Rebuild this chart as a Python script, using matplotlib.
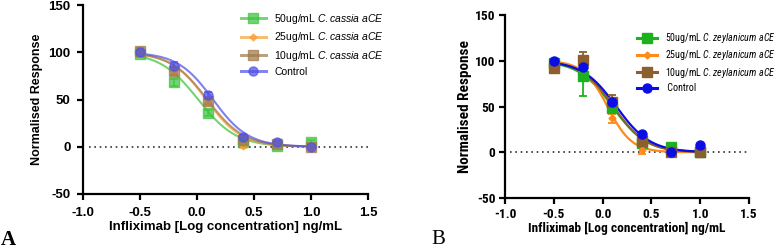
import numpy as np
import matplotlib
matplotlib.use("Agg")
import matplotlib.pyplot as plt
from matplotlib import font_manager

# ---------------- data ----------------
log_conc = [-0.5, -0.2, 0.1, 0.4, 0.7, 1.0]

# Panel A (C. cassia)
a_labels = ["50ug/mL", "25ug/mL", "10ug/mL", "Control"]
a_50 = [98, 68, 36, 5, 1, 5]
a_25 = [99, 80, 47, 1, 3, 0]
a_10 = [101, 80, 48, 7, 3, 0]
a_ctrl = [100, 85, 55, 10, 5, 0]
a_err_50 = [3, 4, 3, 2, 1, 2]
a_err_25 = [3, 3, 3, 2, 1, 1]
a_err_10 = [4, 4, 3, 2, 1, 1]
a_err_ctrl = [2, 5, 3, 2, 1, 1]
a_logic50 = [0.01, 0.08, 0.09, 0.14]
a_hill = [2.6, 2.8, 2.7, 2.8]

# Panel B (C. zeylanicum)
b_50 = [98, 83, 48, 10, 6, 0]
b_25 = [100, 97, 37, 2, 0, 0]
b_10 = [92, 101, 55, 12, 0, 0]
b_ctrl = [100, 93, 55, 20, 0, 8]
b_err_50 = [2, 21, 4, 3, 2, 1]
b_err_25 = [1, 2, 5, 4, 1, 1]
b_err_10 = [2, 9, 8, 2, 1, 1]
b_err_ctrl = [1, 2, 2, 2, 1, 1]
b_logic50 = [0.10, 0.05, 0.11, 0.14]
b_hill = [2.5, 3.5, 2.6, 2.5]

x_ticks = [-1.0, -0.5, 0.0, 0.5, 1.0, 1.5]
y_ticks = [-50, 0, 50, 100, 150]

plt.rcParams['font.family'] = ['Liberation Sans', 'DejaVu Sans']

# find a narrow / condensed family that has a bold face
fonts = font_manager.fontManager.ttflist
narrow = None
for cand in ['Liberation Sans Narrow', 'Arial Narrow', 'Archivo Narrow', 'PT Sans Narrow',
             'Roboto Condensed', 'Asap Condensed', 'IBM Plex Sans Condensed',
             'Barlow Semi Condensed', 'Open Sans Condensed', 'Fira Sans Condensed',
             'Encode Sans Condensed', 'Sofia Sans Condensed']:
    faces = [f for f in fonts if f.name == cand]
    has_bold = any((isinstance(f.weight, int) and f.weight >= 600) or
                   (isinstance(f.weight, str) and 'bold' in f.weight.lower()) for f in faces)
    has_it = any(f.style == 'italic' for f in faces)
    if faces and has_bold and has_it:
        narrow = cand
        break
if narrow is None:
    narrow = 'Liberation Sans'
    b_fs, b_yl, b_leg = 8.4, 9.0, 6.6
else:
    b_fs, b_yl, b_leg = 9.6, 11.0, 7.2

plt.rcParams['mathtext.fontset'] = 'custom'
plt.rcParams['mathtext.it'] = 'Liberation Sans:italic'
plt.rcParams['mathtext.rm'] = 'Liberation Sans'
plt.rcParams['mathtext.sf'] = narrow + ':italic'

fig = plt.figure(figsize=(7.78, 2.5), dpi=100)


def curve(x, c, h):
    return 100.0 / (1.0 + 10 ** ((x - c) * h))


def style_axes(ax, fam, fs, yfs, xpad, ypad, xlp, ylp):
    ax.set_xlim(-1.0, 1.5)
    ax.set_ylim(-50, 150)
    ax.set_xticks(x_ticks)
    ax.set_yticks(y_ticks)
    ax.set_xticklabels([f"{t:.1f}" for t in x_ticks], fontweight='bold', fontsize=fs, family=fam)
    ax.set_yticklabels([str(t) for t in y_ticks], fontweight='bold', fontsize=fs, family=fam)
    for s in ['top', 'right']:
        ax.spines[s].set_visible(False)
    for s in ['left', 'bottom']:
        ax.spines[s].set_linewidth(1.6)
        ax.spines[s].set_color('black')
    ax.tick_params(direction='out', length=4, width=1.6)
    ax.tick_params(axis='x', pad=xpad)
    ax.tick_params(axis='y', pad=ypad)
    ax.set_xlabel("Infliximab [Log concentration] ng/mL", fontweight='bold', fontsize=fs,
                  family=fam, labelpad=xlp)
    ax.set_ylabel("Normalised Response", fontweight='bold', fontsize=yfs, family=fam,
                  labelpad=ylp)


def draw_panel(ax, series, errs, ic50s, hills, colors, markers, msizes, alpha, labels, line_w):
    xf = np.linspace(-0.5, 1.0, 300)
    ax.plot([-0.95, 1.5], [0, 0], linestyle=(0, (1, 2.2)), color='#333333', linewidth=1.2, zorder=1)
    handles = []
    for vals, er, c, h, col, mk, ms, lab in zip(series, errs, ic50s, hills, colors, markers, msizes, labels):
        ax.plot(xf, curve(xf, c, h), color=col, linewidth=line_w, alpha=alpha, zorder=2)
        ax.errorbar(log_conc, vals, yerr=er, fmt='none', ecolor=col, elinewidth=1.3,
                    capsize=3, capthick=1.3, alpha=alpha, zorder=3)
        ax.plot(log_conc, vals, linestyle='none', marker=mk, markersize=ms, color=col,
                alpha=alpha, zorder=4)
        hd, = ax.plot([], [], color=col, marker=mk, markersize=ms, linewidth=line_w + 0.6,
                      alpha=alpha, label=lab)
        handles.append(hd)
    return handles


# ---------------- Panel A ----------------
axA = fig.add_axes([83 / 778, 1 - 194 / 250, 285 / 778, 189 / 250])
colsA = ['#3ec43e', '#f7a037', '#a07a4a', '#5050e8']
hA = draw_panel(axA, [a_50, a_25, a_10, a_ctrl], [a_err_50, a_err_25, a_err_10, a_err_ctrl],
                a_logic50, a_hill, colsA, ['s', 'D', 's', 'o'], [6.5, 3.5, 6.5, 6.5], 0.72,
                a_labels, 1.5)
style_axes(axA, ['Liberation Sans', 'DejaVu Sans'], 9.5, 9.0, 5, 5, 2, 4)
legA_labels = ["50ug/mL $\\it{C.cassia\\ aCE}$", "25ug/mL $\\it{C.cassia\\ aCE}$",
               "10ug/mL $\\it{C.cassia\\ aCE}$", "Control"]
legA = axA.legend(hA, legA_labels, loc='upper left', bbox_to_anchor=(0.53, 1.0),
                  frameon=False, fontsize=7.5, handlelength=2.4, handletextpad=0.8,
                  labelspacing=0.42, borderaxespad=0.25)

# ---------------- Panel B ----------------
axB = fig.add_axes([505 / 778, 1 - 198 / 250, 244 / 778, 183 / 250])
colsB = ['#1db21d', '#ff8a1c', '#8c5f2d', '#0c0ce6']
hB = draw_panel(axB, [b_50, b_25, b_10, b_ctrl], [b_err_50, b_err_25, b_err_10, b_err_ctrl],
                b_logic50, b_hill, colsB, ['s', 'D', 's', 'o'], [6.5, 3.5, 6.5, 6.5], 1.0,
                a_labels, 1.6)
style_axes(axB, [narrow, 'DejaVu Sans'], b_fs, b_yl, 3.0, 3, 0.5, 2)
legB_labels = ["50ug/mL $\\mathsf{C.zeylanicum\\ aCE}$", "25ug/mL $\\mathsf{C.zeylanicum\\ aCE}$",
               "10ug/mL $\\mathsf{C.zeylanicum\\ aCE}$", " Control"]
legB = axB.legend(hB, legB_labels, loc='upper left', bbox_to_anchor=(0.515, 0.945),
                  frameon=False, handlelength=2.0, handletextpad=0.8,
                  labelspacing=0.34, borderaxespad=0.2, prop={'family': narrow, 'size': b_leg})

fig.text(1 / 778, 0 / 250, "A", family='Liberation Serif', fontweight='bold', fontsize=15,
         ha='left', va='bottom')
fig.text(431 / 778, 1 / 250, "B", family='Liberation Serif', fontsize=15,
         ha='left', va='bottom')

fig.savefig("out.png", dpi=100)
